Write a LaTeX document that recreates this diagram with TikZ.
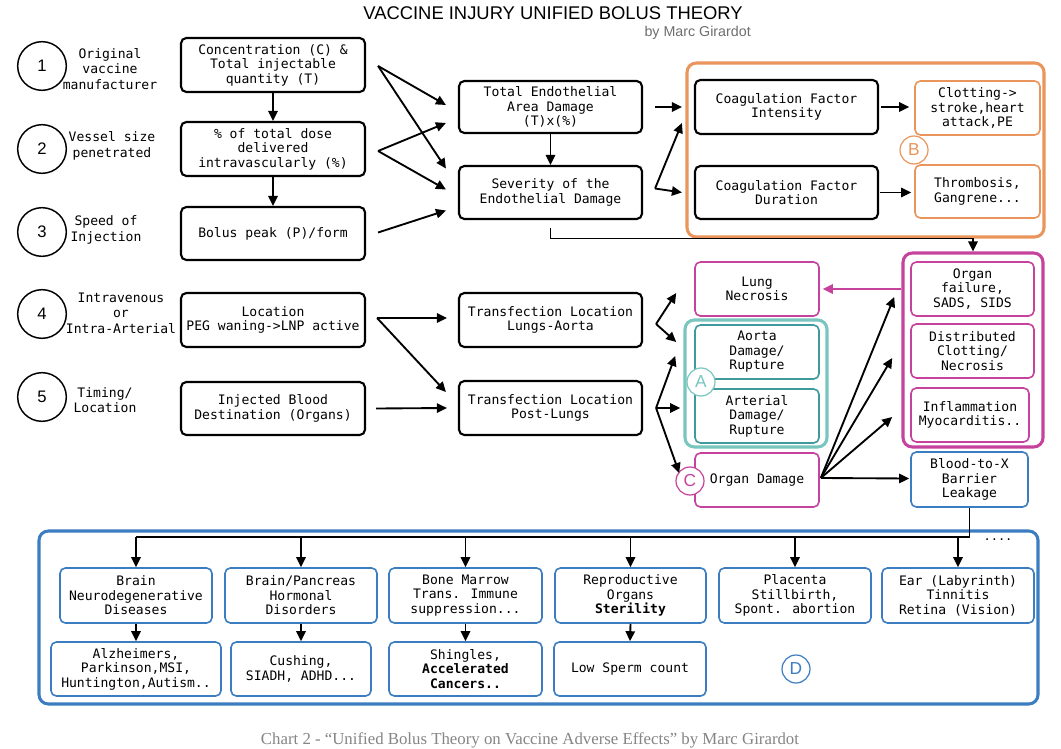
\documentclass[tikz,border=0pt]{standalone}
\usepackage{fontspec}
\setmainfont{Liberation Sans}
\newfontfamily\mono{DejaVu Sans Mono}
\newfontfamily\serifcap{Liberation Serif}
\usetikzlibrary{arrows.meta,calc}
\definecolor{orgc}{HTML}{E9955B}
\definecolor{magc}{HTML}{C5439C}
\definecolor{tealout}{HTML}{78C6BE}
\definecolor{tealin}{HTML}{3F9A9B}
\definecolor{bluec}{HTML}{3B7DC0}
\definecolor{subgray}{HTML}{6E6E6E}
\definecolor{capgray}{HTML}{858585}
\newcommand\boxfont{\mono\fontsize{9.8pt}{10.9pt}\selectfont}
\newcommand\mkbox[7]{%
  \pgfmathsetmacro\bw{(#5-#3)*0.75}%
  \pgfmathsetmacro\bh{(#6-#4)*0.75}%
  \node[#1, minimum width=\bw pt, minimum height=\bh pt] (#2) at ({(#3+#5)/2},{(#4+#6)/2}) {#7};}
\begin{document}
\begin{tikzpicture}[x=0.75pt,y=-0.75pt,
  blk/.style={draw=black, line width=1.6pt, rounded corners=4pt, fill=white, align=center, inner sep=0pt, font=\boxfont},
  orgbox/.style={blk, draw=orgc, line width=1.2pt},
  magbox/.style={blk, draw=magc, line width=1.2pt},
  tealbox/.style={blk, draw=tealin, line width=1.2pt},
  bluebox/.style={blk, draw=bluec, line width=1.2pt},
  grp/.style={draw, line width=2.3pt, rounded corners=7pt, fill=white, inner sep=0pt},
  numc/.style={circle, draw=black, line width=1.1pt, minimum size=36.5pt, inner sep=0pt, font=\fontsize{12.5pt}{14pt}\selectfont},
  letc/.style={circle, draw=#1, text=#1, line width=0.9pt, fill=white, minimum size=21pt, inner sep=0pt, font=\fontsize{13pt}{14pt}\selectfont},
  lbl/.style={align=center, inner sep=0pt, font=\mono\fontsize{9.8pt}{11.5pt}\selectfont},
  arr/.style={line width=1.4pt, -{Triangle[length=7.5pt,width=7pt]}},
  ln/.style={line width=1.4pt}
]
\useasboundingbox (0,0) rectangle (1061,749);
\fill[white] (0,0) rectangle (1061,749);

% title
\node[font=\fontsize{13.8pt}{16pt}\selectfont] (title) at (553,13) {VACCINE INJURY UNIFIED BOLUS THEORY};
\node[anchor=east, text=subgray, font=\fontsize{10.7pt}{12pt}\selectfont, inner sep=0pt] (sub) at (751,33) {by Marc Girardot};

% numbered circles and labels
\node[numc] (n1) at (42,66) {1};
\node[numc] (n2) at (42,149) {2};
\node[numc] (n3) at (42,232) {3};
\node[numc] (n4) at (42,314) {4};
\node[numc] (n5) at (42,397) {5};
\node[lbl] (l1) at (110,69) {Original\\vaccine\\manufacturer};
\node[lbl] (l2) at (112,146) {Vessel size\\penetrated};
\node[lbl] (l3) at (106,230) {Speed of\\Injection};
\node[lbl] (l4) at (121,313) {Intravenous\\or\\Intra-Arterial};
\node[lbl] (l5) at (105,400) {Timing/\\Location};

% group frames
\mkbox{grp, draw=orgc}{orggrp}{687}{63}{1044}{237}{}
\mkbox{grp, draw=magc}{mag}{903}{253}{1043}{447}{}
\mkbox{grp, draw=tealout}{tealgrp}{685}{320}{827}{447}{}
\mkbox{grp, draw=bluec}{bluegrp}{39}{531}{1038}{704}{}

% black boxes
\mkbox{blk}{cbox}{181}{38}{365}{92}{Concentration (C) \&\\Total injectable\\quantity (T)}
\mkbox{blk}{pct}{181}{122}{365}{176}{\% of total dose\\delivered\\intravascularly (\%)}
\mkbox{blk}{bolus}{181}{207}{365}{260}{Bolus peak (P)/form}
\mkbox{blk}{loc}{181}{293}{365}{347}{Location\\PEG waning->LNP active}
\mkbox{blk}{inj}{181}{382}{365}{435}{Injected Blood\\Destination (Organs)}
\mkbox{blk}{tot}{459}{81}{642}{133}{Total Endothelial\\Area Damage\\(T)x(\%)}
\mkbox{blk}{sev}{459}{166}{642}{219}{Severity of the\\Endothelial Damage}
\mkbox{blk}{tla}{459}{293}{642}{347}{Transfection Location\\Lungs-Aorta}
\mkbox{blk}{tpl}{459}{381}{642}{435}{Transfection Location\\Post-Lungs}
\mkbox{blk}{ci}{695}{80}{878}{134}{Coagulation Factor\\Intensity}
\mkbox{blk}{cd}{695}{166}{878}{219}{Coagulation Factor\\Duration}

% orange
\mkbox{orgbox}{clot}{915}{81}{1040}{135}{Clotting->\\stroke,heart\\attack,PE}
\mkbox{orgbox}{thr}{915}{165}{1040}{218}{Thrombosis,\\Gangrene...}

% magenta
\mkbox{magbox}{lung}{695}{262}{819}{316}{Lung\\Necrosis}
\mkbox{magbox}{odmg}{695}{453}{819}{507}{Organ Damage}
\mkbox{magbox}{ofail}{911}{262}{1034}{316}{Organ\\failure,\\SADS, SIDS}
\mkbox{magbox}{dist}{911}{324}{1034}{378}{Distributed\\Clotting/\\Necrosis}
\mkbox{magbox}{infl}{911}{388}{1029}{442}{Inflammation\\Myocarditis..}

% teal
\mkbox{tealbox}{aorta}{695}{325}{819}{379}{Aorta\\Damage/\\Rupture}
\mkbox{tealbox}{art}{695}{389}{819}{443}{Arterial\\Damage/\\Rupture}

% blue
\mkbox{bluebox}{btx}{911}{452}{1028}{507}{Blood-to-X\\Barrier\\Leakage}
\mkbox{bluebox}{brain}{60}{568}{212}{623}{Brain\\Neurodegenerative\\Diseases}
\mkbox{bluebox}{bp}{225}{568}{377}{623}{Brain/Pancreas\\Hormonal\\Disorders}
\mkbox{bluebox}{bm}{389}{568}{542}{623}{Bone Marrow\\Trans. Immune\\suppression...}
\mkbox{bluebox}{rep}{555}{568}{706}{623}{Reproductive\\Organs\\\textbf{Sterility}}
\mkbox{bluebox}{plac}{719}{568}{871}{623}{Placenta\\Stillbirth,\\Spont. abortion}
\mkbox{bluebox}{ear}{882}{568}{1034}{623}{Ear (Labyrinth)\\Tinnitis\\Retina (Vision)}
\mkbox{bluebox}{alz}{51}{642}{221}{696}{Alzheimers,\\Parkinson,MSI,\\Huntington,Autism..}
\mkbox{bluebox}{cush}{231}{642}{371}{696}{Cushing,\\SIADH, ADHD...}
\mkbox{bluebox}{shing}{389}{642}{542}{696}{Shingles,\\\textbf{Accelerated}\\\textbf{Cancers..}}
\mkbox{bluebox}{sperm}{554}{642}{706}{696}{Low Sperm count}

% letter circles
\node[letc=tealout] (la) at (701,382) {A};
\node[letc=orgc] (lb) at (914,150) {B};
\node[letc=magc] (lc) at (690,481) {C};
\node[letc=bluec] (ld) at (796,669) {D};
\node[font=\mono\fontsize{9pt}{10pt}\selectfont, inner sep=0pt] (dots) at (998,540) {....};

% column 2 verticals
\draw[arr] (cbox.south) -- (pct.north);
\draw[arr] (pct.south) -- (bolus.north);

% column 2 -> column 3
\draw[arr] ($(cbox.east)+(12,1)$) -- ($(tot.west)+(-12,-2)$);
\draw[arr] ($(cbox.east)+(12,1)$) -- ($(sev.west)+(-12,-24)$);
\draw[arr] ($(pct.east)+(12,2)$) -- ($(tot.west)+(-12,16)$);
\draw[arr] ($(pct.east)+(12,2)$) -- ($(sev.west)+(-12,-3)$);
\draw[arr] ($(bolus.east)+(12,-1)$) -- ($(sev.west)+(-12,18)$);

% column 3
\draw[arr] (tot.south) -- (sev.north);
\draw[arr] ($(tot.east)+(12,0)$) -- ($(ci.west)+(-12,0)$);
\draw[arr] ($(sev.east)+(12,-4)$) -- ($(ci.west)+(-12,16)$);
\draw[arr] ($(sev.east)+(12,-4)$) -- ($(cd.west)+(-12,0)$);
\draw[arr] ($(ci.east)+(2,0)$) -- ($(clot.west)+(-5,-1)$);
\draw[arr] ($(cd.east)+(1,0)$) -- ($(thr.west)+(-3,1)$);
\draw[arr] ($(sev.south)+(0,8)$) |- ($(mag.north)+(0,-13)$) -- (mag.north);

% rows 4 and 5
\draw[arr] ($(loc.east)+(11,-2)$) -- ($(tla.west)+(-11,-2)$);
\draw[arr] ($(loc.east)+(11,-2)$) -- ($(tpl.west)+(-12,-16)$);
\draw[arr] ($(inj.east)+(10,0)$) -- ($(tpl.west)+(-11,0)$);
\draw[arr] ($(tla.east)+(13,4)$) -- ($(lung.west)+(-18,4)$);
\draw[arr] ($(tla.east)+(13,4)$) -- ($(aorta.west)+(-18,-10)$);
\draw[arr] ($(tpl.east)+(13,0)$) -- ($(aorta.west)+(-19,4)$);
\draw[arr] ($(tpl.east)+(13,0)$) -- ($(art.west)+(-14,-8)$);
\draw[arr] ($(tpl.east)+(13,0)$) -- ($(odmg.west)+(-15,-7)$);

% right side
\draw[arr, draw=magc, fill=magc] (mag.west |- ofail.west) -- ($(lung.east)+(3,0)$);
\draw[arr] ($(odmg.east)+(1,-2)$) -- ($(ofail.west)+(-16,8)$);
\draw[arr] ($(odmg.east)+(1,-2)$) -- ($(dist.west)+(-18,7)$);
\draw[arr] ($(odmg.east)+(1,-2)$) -- ($(infl.west)+(-18,2)$);
\draw[arr] ($(odmg.east)+(1,-2)$) -- ($(btx.west)+(-1,-1)$);

% tree into bottom group
\coordinate (treeL) at (136,537);
\draw[ln] (btx.south) -- (btx.south |- treeL) -- (treeL);
\foreach \b in {brain,bp,bm,rep,plac,ear}{
  \draw[arr] (\b.north |- treeL) -- (\b.north);
}
\draw[arr] (brain.south) -- (alz.north);
\draw[arr] (bp.south) -- (cush.north);
\draw[arr] (bm.south) -- (shing.north);
\draw[arr] (rep.south) -- (sperm.north);

% caption
\node[text=capgray, font=\serifcap\fontsize{12.6pt}{14pt}\selectfont] (cap) at (530,740) {Chart 2 - “Unified Bolus Theory on Vaccine Adverse Effects” by Marc Girardot};
\end{tikzpicture}
\end{document}
